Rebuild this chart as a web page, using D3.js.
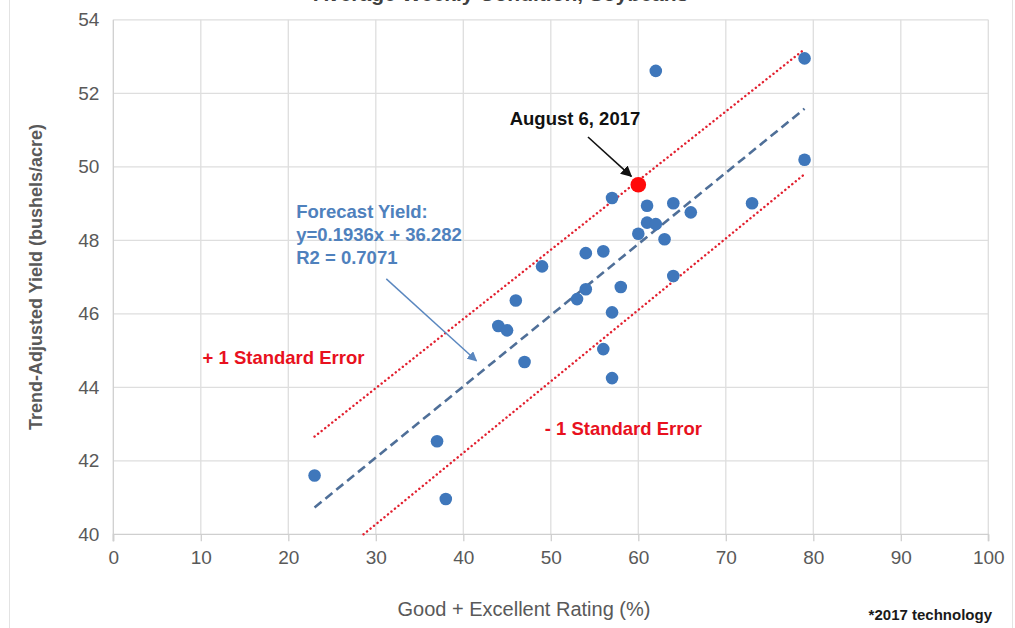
<!DOCTYPE html>
<html>
<head>
<meta charset="utf-8">
<script src="https://cdn.jsdelivr.net/npm/d3@7"></script>
<style>
  body { margin: 0; background: #fff; }
  svg { display: block; font-family: "Liberation Sans", Arial, sans-serif; }
</style>
</head>
<body>
<div id="chart"></div>
<script>
var svgWidth = 1015;
var svgHeight = 628;

// rating (%) and trend-adjusted yield, one point per year
var rating = [79, 79, 62, 57, 61, 64, 66, 61, 62, 60, 63, 73, 54, 56, 49, 64, 58, 54, 53, 46, 57, 44, 45, 56, 47, 57, 37, 23, 38];
var yieldVals = [52.95, 50.19, 52.61, 49.15, 48.94, 49.01, 48.76, 48.48, 48.44, 48.18, 48.03, 49.01, 47.65, 47.70, 47.29, 47.03, 46.73, 46.67, 46.40, 46.36, 46.04, 45.67, 45.55, 45.04, 44.69, 44.25, 42.53, 41.60, 40.96];

// current year
var current = {rating: 60, yield: 49.51};

// forecast line and +/- 1 standard error bands (end points)
var forecastLine = [[23, 40.73], [79, 51.58]];
var upperLine = [[23, 42.66], [79, 53.2]];
var lowerLine = [[28.6, 40.0], [79, 49.8]];

var xTicks = [0, 10, 20, 30, 40, 50, 60, 70, 80, 90, 100];
var yTicks = [40, 42, 44, 46, 48, 50, 52, 54];

var svg = d3.select("#chart")
    .append("svg")
    .attr("width", svgWidth)
    .attr("height", svgHeight);

var defs = svg.append("defs");
function marker(id, color) {
    defs.append("marker")
        .attr("id", id)
        .attr("viewBox", "0 0 10 10")
        .attr("refX", 9).attr("refY", 5)
        .attr("markerWidth", 7).attr("markerHeight", 7)
        .attr("orient", "auto")
        .append("path")
        .attr("d", "M0,0 L10,5 L0,10 Z")
        .attr("fill", color);
}
marker("arrowBlack", "#111");
marker("arrowBlue", "#5a87bf");

// outer frame
svg.append("rect")
    .attr("x", 9.5).attr("y", -2)
    .attr("width", 1003).attr("height", 640)
    .attr("fill", "none")
    .attr("stroke", "#e3e3e3");

// title, cut off at the top edge as in the source picture
svg.append("text")
    .attr("x", 505).attr("y", 1)
    .attr("text-anchor", "middle")
    .attr("font-size", 21)
    .attr("font-weight", "bold")
    .attr("fill", "#404040")
    .text("Average Weekly Condition, Soybeans*");

var x = d3.scaleLinear().domain([0, 100]).range([113.3, 988.3]);
var y = d3.scaleLinear().domain([40, 54]).range([534.3, 19.8]);

// gridlines
svg.append("g").selectAll("line")
    .data(xTicks.slice(1))
    .enter().append("line")
    .attr("x1", d => x(d)).attr("x2", d => x(d))
    .attr("y1", y(54)).attr("y2", y(40))
    .attr("stroke", "#dedede").attr("stroke-width", 1.3);

svg.append("g").selectAll("line")
    .data(yTicks.slice(1))
    .enter().append("line")
    .attr("x1", x(0)).attr("x2", x(100))
    .attr("y1", d => y(d)).attr("y2", d => y(d))
    .attr("stroke", "#dedede").attr("stroke-width", 1.3);

// axes
var bottomAxis = d3.axisBottom(x).tickValues(xTicks).tickSize(7).tickPadding(9);
var leftAxis = d3.axisLeft(y).tickValues(yTicks).tickSize(0).tickPadding(14);

var xAxis = svg.append("g")
    .attr("transform", `translate(0, ${y(40)})`)
    .call(bottomAxis);
xAxis.select(".domain").attr("stroke", "#cfcfcf").attr("stroke-width", 1.3)
    .attr("d", `M${x(0)},7V0H${x(100)}V7`);
xAxis.selectAll(".tick line").attr("stroke", "#cfcfcf").attr("stroke-width", 1.3);
xAxis.selectAll("text")
    .attr("font-size", 19)
    .attr("fill", "#595959");

var yAxis = svg.append("g")
    .attr("transform", `translate(${x(0)}, 0)`)
    .call(leftAxis);
yAxis.select(".domain").attr("stroke", "#cfcfcf").attr("stroke-width", 1.3)
    .attr("d", `M0,${y(54)}V${y(40) + 7}`);
yAxis.selectAll("text")
    .attr("font-size", 19)
    .attr("fill", "#595959");

// axis titles
svg.append("text")
    .attr("transform", `translate(42, ${(y(40) + y(54)) / 2}) rotate(-90)`)
    .attr("text-anchor", "middle")
    .attr("font-size", 18)
    .attr("font-weight", "bold")
    .attr("fill", "#595959")
    .text("Trend-Adjusted Yield (bushels/acre)");

svg.append("text")
    .attr("x", 524).attr("y", 616)
    .attr("text-anchor", "middle")
    .attr("font-size", 20)
    .attr("fill", "#595959")
    .text("Good + Excellent Rating (%)");

svg.append("text")
    .attr("x", 992).attr("y", 620)
    .attr("text-anchor", "end")
    .attr("font-size", 15)
    .attr("font-weight", "bold")
    .attr("fill", "#1a1a1a")
    .text("*2017 technology");

// lines
var lineGen = d3.line().x(d => x(d[0])).y(d => y(d[1]));

svg.append("path")
    .attr("d", lineGen(upperLine))
    .attr("fill", "none")
    .attr("stroke", "#e2202f")
    .attr("stroke-width", 2.4)
    .attr("stroke-linecap", "round")
    .attr("stroke-dasharray", "0.1 4.4");

svg.append("path")
    .attr("d", lineGen(lowerLine))
    .attr("fill", "none")
    .attr("stroke", "#e2202f")
    .attr("stroke-width", 2.4)
    .attr("stroke-linecap", "round")
    .attr("stroke-dasharray", "0.1 4.4");

svg.append("path")
    .attr("d", lineGen(forecastLine))
    .attr("fill", "none")
    .attr("stroke", "#4f6f98")
    .attr("stroke-width", 2.6)
    .attr("stroke-dasharray", "9 5");

// points
var points = rating.map((r, i) => ({rating: r, yield: yieldVals[i]}));

svg.append("g").selectAll("circle")
    .data(points)
    .enter().append("circle")
    .attr("cx", d => x(d.rating))
    .attr("cy", d => y(d.yield))
    .attr("r", 6.3)
    .attr("fill", "#3f77bb");

svg.append("circle")
    .attr("cx", x(current.rating))
    .attr("cy", y(current.yield))
    .attr("r", 7.8)
    .attr("fill", "#ff0a0a");

// annotations
svg.append("text")
    .attr("x", x(45.3)).attr("y", y(51.13))
    .attr("font-size", 18.5)
    .attr("font-weight", "bold")
    .attr("fill", "#111")
    .text("August 6, 2017");

svg.append("line")
    .attr("x1", x(54.25)).attr("y1", y(50.81))
    .attr("x2", x(59.2)).attr("y2", y(49.74))
    .attr("stroke", "#111").attr("stroke-width", 1.6)
    .attr("marker-end", "url(#arrowBlack)");

var forecastText = ["Forecast Yield:", "y=0.1936x + 36.282", "R2 = 0.7071"];
svg.append("g").selectAll("text")
    .data(forecastText)
    .enter().append("text")
    .attr("x", x(20.9))
    .attr("y", (d, i) => y(48.6) + i * 23)
    .attr("font-size", 18.5)
    .attr("font-weight", "bold")
    .attr("fill", "#4f81bd")
    .text(d => d);

svg.append("line")
    .attr("x1", x(31.2)).attr("y1", y(46.95))
    .attr("x2", x(41.5)).attr("y2", y(44.72))
    .attr("stroke", "#5a87bf").attr("stroke-width", 1.4)
    .attr("marker-end", "url(#arrowBlue)");

svg.append("text")
    .attr("x", x(10.2)).attr("y", y(44.63))
    .attr("font-size", 18.5)
    .attr("font-weight", "bold")
    .attr("fill", "#e8111e")
    .text("+ 1 Standard Error");

svg.append("text")
    .attr("x", x(49.3)).attr("y", y(42.7))
    .attr("font-size", 18.5)
    .attr("font-weight", "bold")
    .attr("fill", "#e8111e")
    .text("- 1 Standard Error");
</script>
</body>
</html>
